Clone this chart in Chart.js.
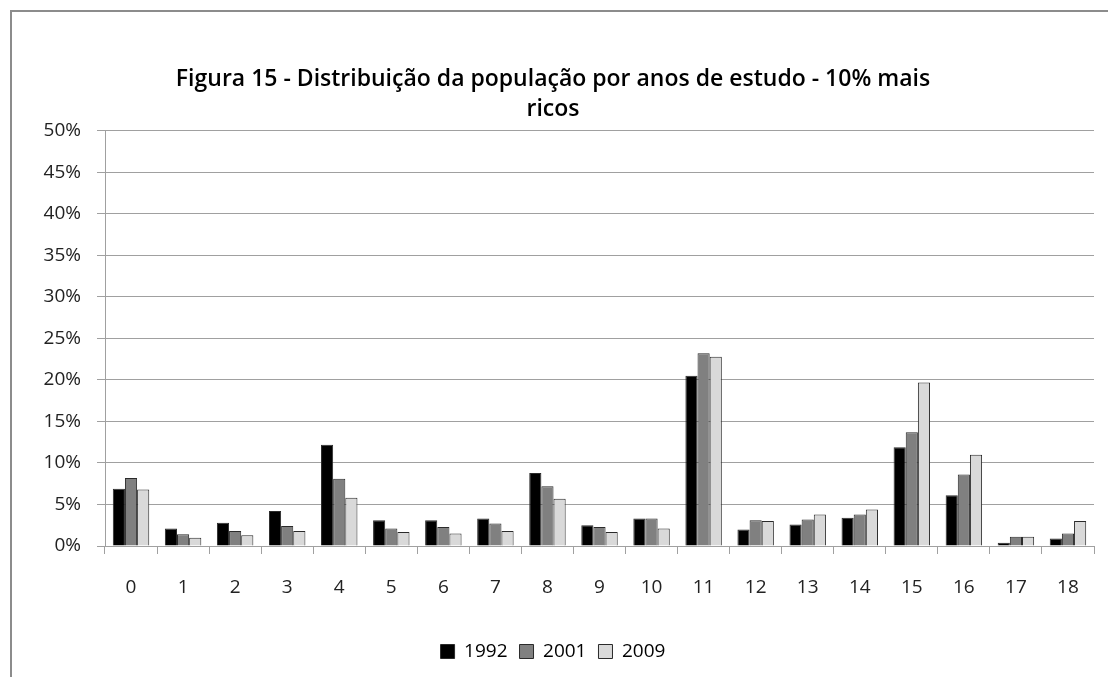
<!DOCTYPE html>
<html>
<head>
    <title>Figura 15</title>
    <style>
        body { margin: 0; background: #fff; }
        .frame {
            position: absolute;
            left: 10px;
            top: 10px;
            width: 1098px;
            height: 667px;
            border-left: 2px solid #8c8c8c;
            border-top: 2px solid #8c8c8c;
        }
        .chart-box {
            position: absolute;
            left: 0;
            top: 0;
            width: 1108px;
            height: 677px;
        }
    </style>
    <script src="https://cdn.jsdelivr.net/npm/chart.js"></script>
</head>
<body>
    <div class="frame"></div>
    <div class="chart-box">
        <canvas id="estudoChart" width="1108" height="677"></canvas>
    </div>

    <script>
        // anos de estudo
        const anos = ['0', '1', '2', '3', '4', '5', '6', '7', '8', '9',
                      '10', '11', '12', '13', '14', '15', '16', '17', '18'];

        // % da população (10% mais ricos)
        const v1992 = [6.9, 2.1, 2.8, 4.2, 12.2, 3.1, 3.1, 3.3, 8.8, 2.5, 3.3, 20.5, 2.0, 2.6, 3.4, 11.9, 6.1, 0.4, 0.9];
        const v2001 = [8.2, 1.4, 1.8, 2.4, 8.1, 2.1, 2.3, 2.7, 7.2, 2.3, 3.3, 23.2, 3.1, 3.2, 3.8, 13.7, 8.6, 1.1, 1.5];
        const v2009 = [6.8, 1.0, 1.3, 1.8, 5.8, 1.7, 1.5, 1.8, 5.7, 1.7, 2.1, 22.8, 3.0, 3.8, 4.4, 19.7, 11.0, 1.1, 3.0];

        const yTicks = [0, 5, 10, 15, 20, 25, 30, 35, 40, 45, 50];

        const fontFamily = "'Open Sans', 'Noto Sans', sans-serif";
        const gridColor = '#a0a0a0';

        const ctx = document.getElementById('estudoChart').getContext('2d');
        new Chart(ctx, {
            type: 'bar',
            data: {
                labels: anos,
                datasets: [
                    { label: '1992', data: v1992, backgroundColor: '#000000' },
                    { label: '2001', data: v2001, backgroundColor: '#808080' },
                    { label: '2009', data: v2009, backgroundColor: '#d9d9d9' }
                ].map(ds => Object.assign(ds, {
                    borderColor: '#2a2a2a',
                    borderWidth: 1,
                    categoryPercentage: 0.7,
                    barPercentage: 1.0
                }))
            },
            options: {
                responsive: false,
                animation: false,
                layout: {
                    padding: { left: 12, right: 14, top: 65, bottom: 6 }
                },
                plugins: {
                    title: {
                        display: true,
                        text: ['Figura 15 - Distribuição da população por anos de estudo - 10% mais', 'ricos'],
                        color: '#000',
                        font: { family: fontFamily, size: 23, weight: 600, lineHeight: 1.3 },
                        padding: { top: 0, bottom: 6 }
                    },
                    legend: {
                        position: 'bottom',
                        labels: {
                            color: '#222',
                            font: { family: fontFamily, size: 19 },
                            boxWidth: 14,
                            boxHeight: 14,
                            padding: 12,
                            generateLabels: function (chart) {
                                return chart.data.datasets.map(function (ds, i) {
                                    return {
                                        text: ds.label,
                                        fillStyle: ds.backgroundColor,
                                        strokeStyle: '#2a2a2a',
                                        lineWidth: 1,
                                        datasetIndex: i
                                    };
                                });
                            }
                        }
                    },
                    tooltip: { enabled: false }
                },
                scales: {
                    x: {
                        afterFit: function (scale) { scale.height = 84; },
                        grid: {
                            offset: true,
                            drawOnChartArea: false,
                            drawTicks: true,
                            tickLength: 8,
                            color: gridColor
                        },
                        border: { color: gridColor, width: 1 },
                        ticks: {
                            color: '#222',
                            font: { family: fontFamily, size: 19 },
                            padding: 22,
                            maxRotation: 0
                        }
                    },
                    y: {
                        min: 0,
                        max: 50,
                        afterFit: function (scale) { scale.width = 93; },
                        afterBuildTicks: function (scale) {
                            scale.ticks = yTicks.map(v => ({ value: v }));
                        },
                        grid: {
                            color: gridColor,
                            tickLength: 8
                        },
                        border: { color: gridColor, width: 1 },
                        ticks: {
                            color: '#222',
                            font: { family: fontFamily, size: 19 },
                            padding: 16,
                            callback: function (value) { return value + '%'; }
                        }
                    }
                }
            }
        });
    </script>
</body>
</html>
